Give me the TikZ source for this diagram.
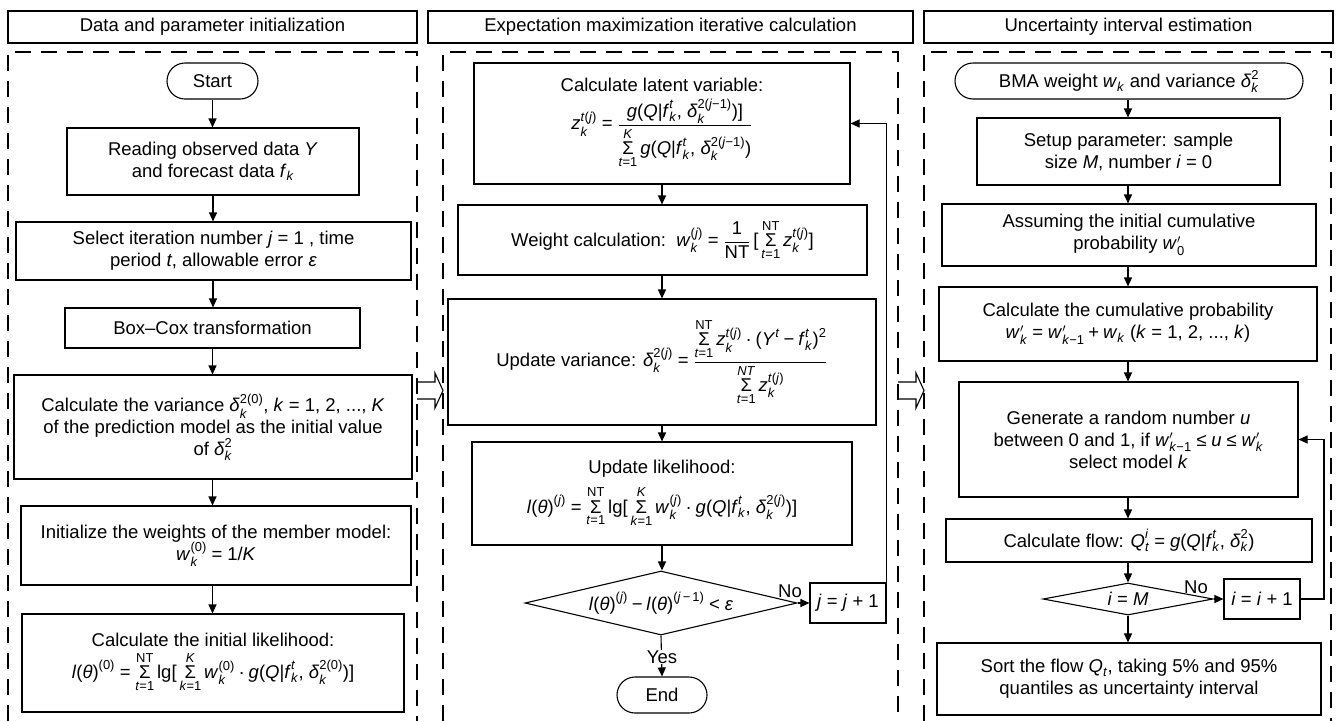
\documentclass[tikz,border=0pt]{standalone}
\usepackage{amsmath}
\usepackage{fontspec}
\setmainfont{Liberation Sans}
\usetikzlibrary{arrows.meta,shapes.geometric}

% formula helpers: italic variable, upright text, operators in the text font
\newcommand\V[1]{\text{\itshape #1\/}}
\newcommand\R[1]{\text{#1}}
\newcommand\Eq{\mathrel{\text{=}}}
\newcommand\Pl{\mathbin{\text{+}}}
\newcommand\Mn{\mathbin{\text{−}}}
\newcommand\Dt{\mathbin{\text{·}}}
\newcommand\Lt{\mathrel{\text{<}}}
\newcommand\Le{\mathrel{\text{≤}}}
\newcommand\Sm{\mathop{\text{Σ}}\limits}
% g(Q|f_k^t, delta_k^{#1})
\newcommand\gq[1]{\V{g}\R{(}\V{Q}\R{|}\V{f}_{\V{k}}^{\V{t}}\R{, }\V{δ}_{\V{k}}^{#1}\R{)}}

\tikzset{
  every node/.style={font=\fontsize{18.5}{22}\selectfont, text=black},
  box/.style={draw, line width=1.1pt, inner sep=0pt, align=center},
  term/.style={box, rounded corners=18pt},
  dec/.style={draw, diamond, line width=1.1pt, inner sep=0pt},
  arr/.style={-{Triangle[length=9pt,width=8pt]}, line width=1.1pt},
  frame/.style={dash pattern=on 16pt off 10pt, line width=1.2pt},
  hollow/.style={line width=1.1pt, line join=miter},
}

\begin{document}
\begin{tikzpicture}[x=1pt,y=-1pt]
\useasboundingbox (0,0) rectangle (1336,721);
\clip (0,0) rectangle (1336,721);

% ---------- column headers ----------
\node[box, minimum width=409pt, minimum height=32pt] (h1) at (212.5,27) {Data and parameter initialization};
\node[box, minimum width=485pt, minimum height=32pt] (h2) at (670.5,27) {Expectation maximization iterative calculation};
\node[box, minimum width=409pt, minimum height=32pt] (h3) at (1128.5,27) {Uncertainty interval estimation};

% ---------- dashed column frames (open at the bottom) ----------
\draw[frame] (8,721) -- (8,52) -- (417,52) -- (417,721);
\draw[frame] (443,721) -- (443,52) -- (898,52) -- (898,721);
\draw[frame] (924,721) -- (924,52) -- (1331,52) -- (1331,721);

% ---------- hollow arrows between the columns ----------
\draw[hollow] (417,382) -- (435,382) -- (435,373) -- (443,390.5) -- (435,408) -- (435,399) -- (417,399);
\draw[hollow] (898,382) -- (916,382) -- (916,373) -- (924,390.5) -- (916,408) -- (916,399) -- (898,399);

% ---------- left column ----------
\node[term, minimum width=91pt, minimum height=36pt] (start) at (212.5,81) {Start};
\node[box, minimum width=292pt, minimum height=67pt] (read) at (213,161.5)
  {Reading observed data \textit{Y}\\ and forecast data $\V{f}_{\V{k}}$};
\node[box, minimum width=395pt, minimum height=58pt] (select) at (213.5,251)
  {Select iteration number \textit{j} = 1 , time\\ period \textit{t}, allowable error \textit{ε}};
\node[box, minimum width=295pt, minimum height=40pt] (boxcox) at (212.5,328) {Box–Cox transformation};
\node[box, minimum width=398pt, minimum height=104pt] (var0) at (213,427)
  {Calculate the variance $\V{δ}_{\V{k}}^{\R{2(0)}}$, \textit{k} = 1, 2, ..., \textit{K}\\
   of the prediction model as the initial value\\ of $\V{δ}_{\V{k}}^{\R{2}}$};
\node[box, minimum width=390pt, minimum height=79pt] (init) at (216,545.5)
  {Initialize the weights of the member model:\\ $\V{w}_{\V{k}}^{\R{(0)}}\Eq\R{1/}\V{K}$};
\node[box, minimum width=382pt, minimum height=98pt] (like0) at (213,663)
  {Calculate the initial likelihood:\\[4pt]
   $\V{l}\R{(}\V{θ}\R{)}^{\R{(0)}}\Eq\Sm^{\R{NT}}_{\V{t}\Eq\R{1}}\R{lg[}\Sm^{\V{K}}_{\V{k}\Eq\R{1}}
    \V{w}_{\V{k}}^{\R{(0)}}\Dt\gq{\R{2(0)}}\R{]}$};

\draw[arr] (start.south) -- (start.south |- read.north);
\draw[arr] (read.south) -- (read.south |- select.north);
\draw[arr] (read.south |- select.south) -- (read.south |- boxcox.north);
\draw[arr] (boxcox.south) -- (boxcox.south |- var0.north);
\draw[arr] (boxcox.south |- var0.south) -- (boxcox.south |- init.north);
\draw[arr] (boxcox.south |- init.south) -- (boxcox.south |- like0.north);

% ---------- middle column ----------
\node[box, minimum width=376pt, minimum height=121pt] (latent) at (662,123.5)
  {Calculate latent variable:\\[6pt]
   $\V{z}_{\V{k}}^{\V{t}\R{(}\V{j}\R{)}}\Eq
    \dfrac{\gq{\R{2(}\V{j}\R{−1)}}\R{]}}{\Sm^{\V{K}}_{\V{t}\Eq\R{1}}\gq{\R{2(}\V{j}\R{−1)}}}$};
\node[box, minimum width=409pt, minimum height=70pt] (weight) at (662.5,240)
  {Weight calculation:\ \ $\V{w}_{\V{k}}^{\R{(}\V{j}\R{)}}\Eq\dfrac{\R{1}}{\R{NT}}\,
    \R{[}\Sm^{\R{NT}}_{\V{t}\Eq\R{1}}\V{z}_{\V{k}}^{\V{t}\R{(}\V{j}\R{)}}\R{]}$};
\node[box, minimum width=428pt, minimum height=126pt] (var) at (662,362)
  {Update variance: $\V{δ}_{\V{k}}^{\R{2(}\V{j}\R{)}}\Eq
    \dfrac{\Sm^{\R{NT}}_{\V{t}\Eq\R{1}}\V{z}_{\V{k}}^{\V{t}\R{(}\V{j}\R{)}}\Dt
      \R{(}\V{Y}^{\V{t}}\Mn\V{f}_{\V{k}}^{\V{t}}\R{)}^{\R{2}}}
          {\Sm^{\V{NT}}_{\V{t}\Eq\R{1}}\V{z}_{\V{k}}^{\V{t}\R{(}\V{j}\R{)}}}$};
\node[box, minimum width=380pt, minimum height=103pt] (likel) at (662,493.5)
  {Update likelihood:\\[8pt]
   $\V{l}\R{(}\V{θ}\R{)}^{\R{(}\V{j}\R{)}}\Eq\Sm^{\R{NT}}_{\V{t}\Eq\R{1}}\R{lg[}\Sm^{\V{K}}_{\V{k}\Eq\R{1}}
    \V{w}_{\V{k}}^{\R{(}\V{j}\R{)}}\Dt\gq{\R{2(}\V{j}\R{)}}\R{]}$};
\node[dec, minimum width=272pt, minimum height=64pt,
  label={center:$\V{l}\R{(}\V{θ}\R{)}^{\R{(}\V{j}\R{)}}\Mn\V{l}\R{(}\V{θ}\R{)}^{\R{(}\V{j}\,\R{−}\,\R{1)}}\Lt\V{ε}$}]
  (conv) at (661,603) {};
\node[box, minimum width=76pt, minimum height=40pt] (jinc) at (848,603) {\textit{j} = \textit{j} + 1};
\node[term, minimum width=90pt, minimum height=36pt] (end) at (662,695) {End};

\draw[arr] (latent.south) -- (latent.south |- weight.north);
\draw[arr] (latent.south |- weight.south) -- (latent.south |- var.north);
\draw[arr] (latent.south |- var.south) -- (latent.south |- likel.north);
\draw[arr] (latent.south |- likel.south) -- (latent.south |- conv.north);
\draw[arr] (conv.east) -- (jinc.west);
\node[anchor=south] (no1) at (790,601) {No};
\draw[arr] (jinc.north east) |- (latent.east);
\draw[arr] (conv.south) -- (end.north);
\node[fill=white, inner sep=1pt] (yes) at (662,657) {Yes};

% ---------- right column ----------
\node[term, minimum width=348pt, minimum height=36pt] (bma) at (1129,81)
  {BMA weight $\V{w}_{\V{k}}$ and variance $\V{δ}_{\V{k}}^{\R{2}}$};
\node[box, minimum width=303pt, minimum height=67pt] (setup) at (1128.5,151.5)
  {Setup parameter: sample\\ size \textit{M}, number \textit{i} = 0};
\node[box, minimum width=374pt, minimum height=62pt] (assume) at (1129,235)
  {Assuming the initial cumulative\\ probability $\V{w}'_{\R{0}}$};
\node[box, minimum width=378pt, minimum height=74pt] (cum) at (1128,324)
  {Calculate the cumulative probability\\
   $\V{w}'_{\V{k}}\Eq\V{w}'_{\V{k}\R{−1}}\Pl\V{w}_{\V{k}}$ (\textit{k} = 1, 2, ..., \textit{k})};
\node[box, minimum width=339pt, minimum height=115pt] (gen) at (1128.5,439.5)
  {Generate a random number \textit{u}\\
   between 0 and 1, if $\V{w}'_{\V{k}\R{−1}}\Le\V{u}\Le\V{w}'_{\V{k}}$\\ select model \textit{k}};
\node[box, minimum width=366pt, minimum height=43pt] (flow) at (1129,540.5)
  {Calculate flow: $\V{Q}_{\V{t}}^{\V{i}}\Eq\V{g}\R{(}\V{Q}\R{|}\V{f}_{\V{k}}^{\V{t}}\R{, }\V{δ}_{\V{k}}^{\R{2}}\R{)}$};
\node[dec, minimum width=170pt, minimum height=32pt, label={center:\textit{i} = \textit{M}}]
  (done) at (1128,599) {};
\node[box, minimum width=76pt, minimum height=40pt] (iinc) at (1262,599) {\textit{i} = \textit{i} + 1};
\node[box, minimum width=384pt, minimum height=72pt] (sort) at (1129,679)
  {Sort the flow $\V{Q}_{\V{t}}$, taking 5\% and 95\%\\ quantiles as uncertainty interval};
\coordinate (iturn) at (1324,599);

\draw[arr] (done.north |- bma.south) -- (done.north |- setup.north);
\draw[arr] (done.north |- setup.south) -- (done.north |- assume.north);
\draw[arr] (done.north |- assume.south) -- (done.north |- cum.north);
\draw[arr] (done.north |- cum.south) -- (done.north |- gen.north);
\draw[arr] (done.north |- gen.south) -- (done.north |- flow.north);
\draw[arr] (done.north |- flow.south) -- (done.north);
\draw[arr] (done.east) -- (iinc.west);
\node[anchor=south] (no2) at (1196,597) {No};
\draw[arr] (done.south) -- (done.south |- sort.north);
\draw[arr] (iinc.east) -- (iturn) |- (gen.east);
\end{tikzpicture}
\end{document}
